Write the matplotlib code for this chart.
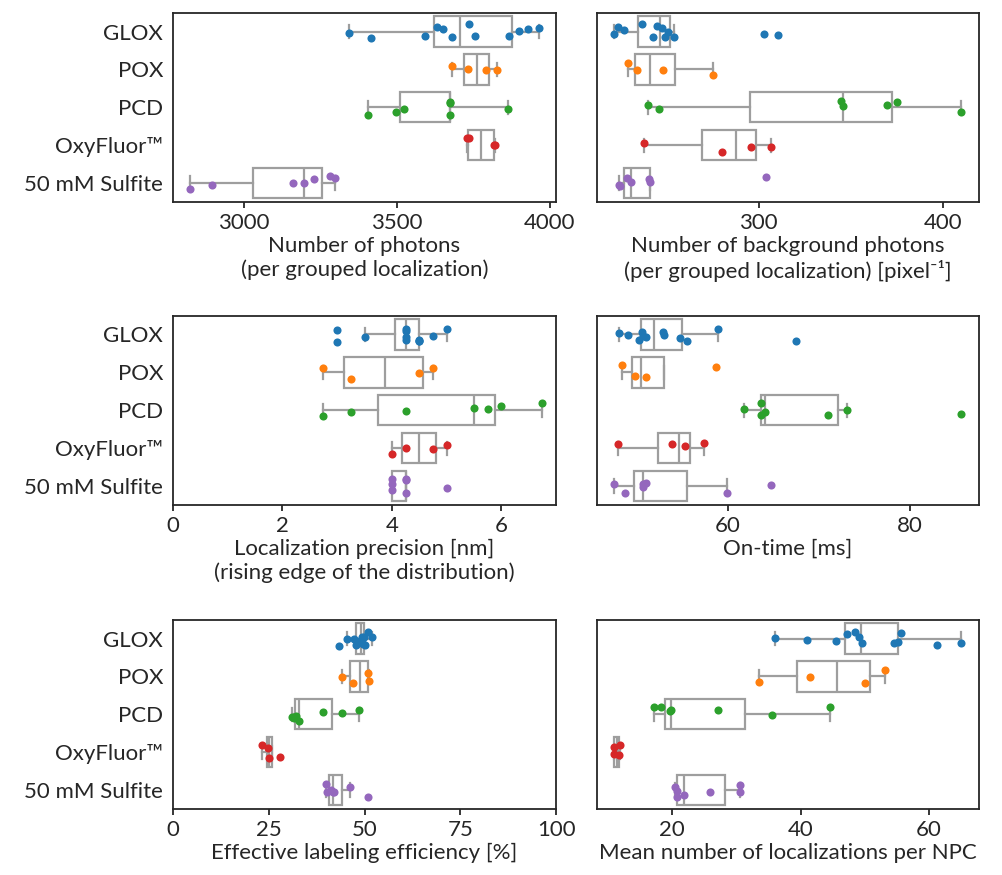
"""Boxplots with jittered points for the five oxygen-scavenging buffers (3 x 2 panels)."""
import matplotlib
matplotlib.use("Agg")
import matplotlib.pyplot as plt
import numpy as np

plt.rcParams.update({
    "font.family":       ["Lato", "DejaVu Sans"],
    "font.size":         16,
    "axes.linewidth":    1.3,
    "axes.edgecolor":    "#262626",
    "axes.labelcolor":   "#262626",
    "text.color":        "#262626",
    "xtick.color":       "#262626",
    "ytick.color":       "#262626",
    "xtick.major.size":  4.5,
    "xtick.major.width": 1.3,
    "xtick.major.pad":   3.5,
    "ytick.major.size":  0,
    "ytick.major.pad":   7,
    "axes.labelpad":     2,
})

C_BOX = (0.62, 0.62, 0.62)
COLORS = ["#1f77b4", "#ff7f0e", "#2ca02c", "#d62728", "#9467bd"]
BUFFERS = ["GLOX", "POX", "PCD", "OxyFluor™", "50 mM Sulfite"]

# ── Data ──────────────────────────────────────────────────────────────────────
photons_glox    = [3343, 3415, 3590, 3631, 3650, 3679, 3735, 3754, 3866, 3900, 3929, 3963]
photons_pox     = [3680, 3732, 3792, 3828]
photons_pcd     = [3405, 3498, 3524, 3672, 3672, 3672, 3863]
photons_oxy     = [3729, 3735, 3816, 3820]
photons_sulfite = [2824, 2896, 3160, 3194, 3228, 3280, 3296]

backgr_glox    = [221.8, 224.0, 226.9, 237.0, 243.0, 245.1, 247.8, 249.1, 250.9, 254.2, 302.9, 310.8]
backgr_pox     = [229.1, 234.1, 248.0, 275.1]
backgr_pcd     = [240.1, 246.0, 344.9, 345.8, 369.9, 374.9, 409.9]
backgr_oxy     = [237.9, 280.0, 296.0, 307.0]
backgr_sulfite = [224.5, 224.9, 228.9, 231.0, 240.8, 241.2, 304.0]

precision_glox    = [3.0, 3.0, 3.5, 4.25, 4.25, 4.25, 4.25, 4.5, 4.5, 4.5, 4.75, 5.0]
precision_pox     = [2.75, 3.25, 4.5, 4.75]
precision_pcd     = [2.75, 3.25, 4.25, 5.5, 5.75, 6.0, 6.75]
precision_oxy     = [4.0, 4.25, 4.75, 5.0]
precision_sulfite = [4.0, 4.0, 4.0, 4.25, 4.25, 4.25, 5.0]

ontime_glox    = [48.0, 49.0, 50.2, 50.5, 50.7, 51.0, 52.8, 53.0, 54.7, 55.5, 58.9, 67.5]
ontime_pox     = [48.3, 49.8, 51.0, 58.7]
ontime_pcd     = [61.7, 63.6, 63.6, 64.1, 71.0, 73.1, 85.6]
ontime_oxy     = [47.9, 53.8, 55.3, 57.4]
ontime_sulfite = [47.5, 48.7, 50.6, 50.6, 51.0, 59.9, 64.7]

labeling_glox    = [43.3, 45.5, 47.2, 47.9, 48.6, 49.0, 49.3, 49.6, 49.8, 50.0, 50.8, 52.0]
labeling_pox     = [44.0, 47.0, 50.8, 51.1]
labeling_pcd     = [31.0, 31.5, 32.0, 32.8, 39.1, 44.1, 48.5]
labeling_oxy     = [23.2, 24.9, 25.0, 28.0]
labeling_sulfite = [39.9, 40.2, 41.2, 41.7, 42.1, 46.3, 51.0]

npc_glox    = [36.0, 41.0, 45.5, 47.3, 48.5, 49.1, 49.6, 54.5, 55.1, 55.6, 61.3, 65.0]
npc_pox     = [33.6, 41.4, 50.0, 53.1]
npc_pcd     = [17.1, 18.2, 19.7, 19.8, 27.2, 35.5, 44.6]
npc_oxy     = [11.0, 11.0, 11.7, 11.9]
npc_sulfite = [20.4, 20.7, 20.8, 21.8, 25.9, 30.5, 30.5]

rng = np.random.default_rng(7)


def draw_panel(ax, groups, xlabel, xticks, xlim=None, show_names=True):
    pos = np.arange(len(groups))
    line = dict(color=C_BOX, linewidth=1.6)
    ax.boxplot(groups, positions=pos, orientation="horizontal", widths=0.8,
               showfliers=False, capwidths=0.35, patch_artist=True,
               boxprops=dict(facecolor="white", edgecolor=C_BOX, linewidth=1.6),
               medianprops=line, whiskerprops=line, capprops=line, zorder=1)
    for i, (vals, color) in enumerate(zip(groups, COLORS)):
        jit = rng.uniform(-0.2, 0.2, len(vals))
        ax.scatter(vals, i + jit, s=34, color=color, linewidths=0, zorder=3)

    ax.set_ylim(len(groups) - 0.5, -0.5)
    ax.set_yticks(pos)
    ax.set_yticklabels(BUFFERS if show_names else [])
    ax.set_xticks(xticks)
    ax.set_xticklabels([str(t) for t in xticks])
    if xlim is not None:
        ax.set_xlim(*xlim)
    ax.set_xlabel(xlabel)


fig = plt.figure(figsize=(10.03, 8.75), dpi=100)

col_x = [0.1725, 0.5952]
col_w = [0.3819, 0.3804]
row_y = [0.7691, 0.4229, 0.0754]
row_h = 0.2165

panels = [
    ([photons_glox, photons_pox, photons_pcd, photons_oxy, photons_sulfite],
     "Number of photons\n(per grouped localization)", [3000, 3500, 4000], None),
    ([backgr_glox, backgr_pox, backgr_pcd, backgr_oxy, backgr_sulfite],
     "Number of background photons\n(per grouped localization) [pixel\u207b\u00b9]",
     [300, 400], None),
    ([precision_glox, precision_pox, precision_pcd, precision_oxy, precision_sulfite],
     "Localization precision [nm]\n(rising edge of the distribution)", [0, 2, 4, 6], (0, 7)),
    ([ontime_glox, ontime_pox, ontime_pcd, ontime_oxy, ontime_sulfite],
     "On-time [ms]", [60, 80], None),
    ([labeling_glox, labeling_pox, labeling_pcd, labeling_oxy, labeling_sulfite],
     "Effective labeling efficiency [%]", [0, 25, 50, 75, 100], (0, 100)),
    ([npc_glox, npc_pox, npc_pcd, npc_oxy, npc_sulfite],
     "Mean number of localizations per NPC", [20, 40, 60], None),
]

for k, (groups, xlabel, xticks, xlim) in enumerate(panels):
    r, c = divmod(k, 2)
    ax = fig.add_axes([col_x[c], row_y[r], col_w[c], row_h])
    draw_panel(ax, groups, xlabel, xticks, xlim, show_names=(c == 0))

fig.savefig("out.png", dpi=100)
